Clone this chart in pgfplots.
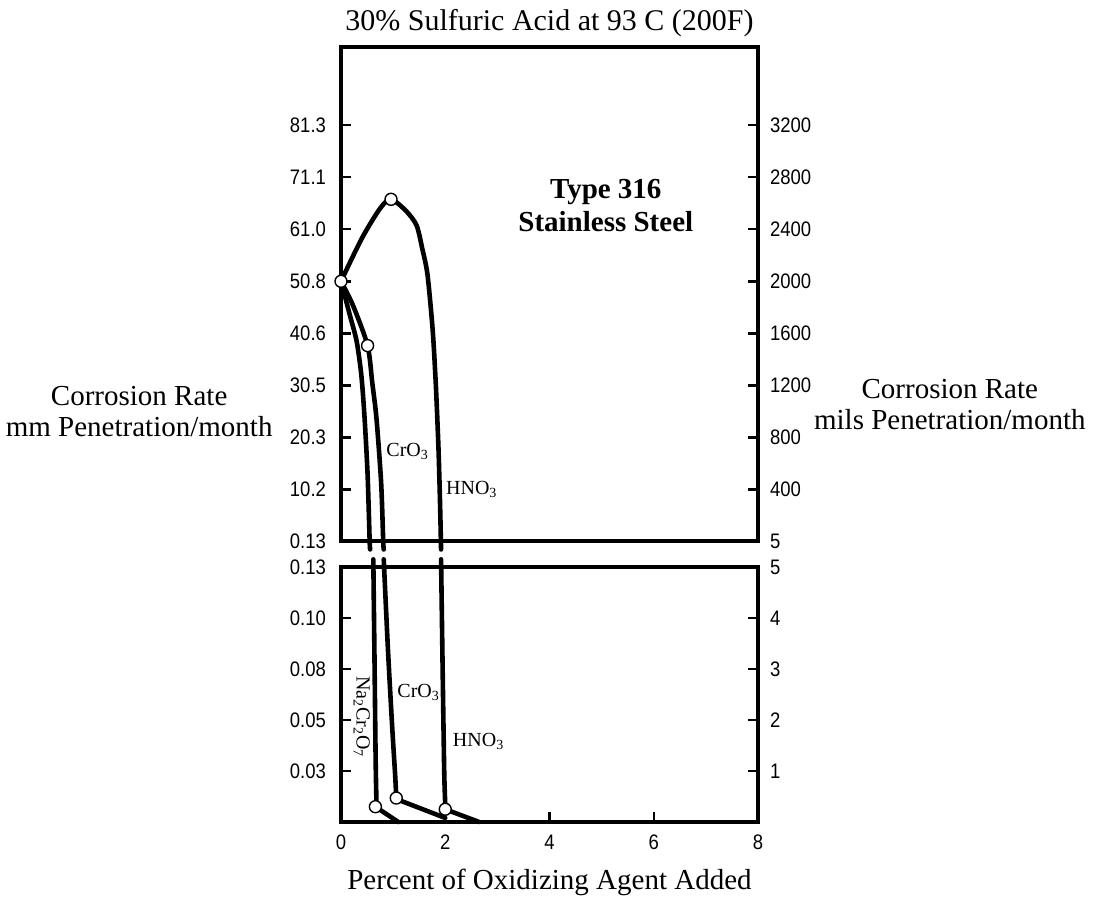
\documentclass[border=0pt]{standalone}
\usepackage{pgfplots}
\pgfplotsset{compat=1.18}
\usepackage{fontspec}
\setmainfont{Liberation Serif}
\newfontfamily\tickfont{Liberation Sans}[FakeStretch=0.88]

\begin{document}
\begin{tikzpicture}
\path[use as bounding box] (-170.5pt,-44.5pt) rectangle (386.5pt,411pt);

\pgfplotsset{
  panel/.style={scale only axis, width=208.5pt, xmin=0, xmax=8, clip=false,
    axis line style={line width=2pt, black}, tick align=inside,
    major tick length=5pt, tick style={line width=1.2pt, black},
    tick label style={font=\tickfont\fontsize{10.5}{12}\selectfont}},
  crv/.style={black, line width=2.3pt, smooth, tension=0.45, line join=round, line cap=round, mark=none},
  circ/.style={only marks, mark=*, mark size=3pt, mark options={fill=white, draw=black, line width=0.7pt}},
}

% ---------------- top panel (mils) ----------------
\begin{axis}[panel, at={(0,140.5pt)}, anchor=south west, height=247pt,
  ymin=5, ymax=3800, xtick=\empty,
  ytick={5,400,800,1200,1600,2000,2400,2800,3200},
  yticklabels={0.13,10.2,20.3,30.5,40.6,50.8,61.0,71.1,81.3},
  ytick pos=left, yticklabel style={xshift=-4pt},
  title={30\% Sulfuric Acid at 93 C (200F)},
  title style={at={(axis description cs:0.5,1)}, anchor=center, yshift=6pt, font=\fontsize{15}{17}\selectfont}]
% HNO3
\addplot[crv] coordinates {(0,2000) (0.4,2330) (0.75,2560) (0.96,2630) (1.25,2540) (1.45,2430) (1.56,2250) (1.66,2050) (1.76,1620) (1.82,1200) (1.87,720) (1.90,300) (1.92,-60)};
% CrO3
\addplot[crv] coordinates {(0,2000) (0.23,1815) (0.51,1506) (0.6,1220) (0.68,950) (0.77,454) (0.81,5) (0.82,-60)};
% Na2Cr2O7
\addplot[crv] coordinates {(0,2000) (0.17,1740) (0.30,1540) (0.39,1280) (0.45,965) (0.51,520) (0.55,5) (0.56,-60)};
\addplot[circ] coordinates {(0,2000) (0.96,2630) (0.51,1506)};
\node[font=\bfseries\fontsize{14.5}{16.5}\selectfont, align=center] at (axis cs:5.08,2580) {Type 316\\Stainless Steel};
\node[font=\fontsize{10}{12}\selectfont] at (axis cs:1.28,694) {CrO\textsubscript{3}};
\node[font=\fontsize{10}{12}\selectfont] at (axis cs:2.51,400) {HNO\textsubscript{3}};
\node[align=center, font=\fontsize{14.5}{15.5}\selectfont] at (axis description cs:-0.484,0.263) {Corrosion Rate\\mm Penetration/month};
\node[align=center, font=\fontsize{14.5}{15.5}\selectfont] at (axis description cs:1.46,0.277) {Corrosion Rate\\mils Penetration/month};
\end{axis}

\begin{axis}[panel, at={(0,140.5pt)}, anchor=south west, height=247pt,
  ymin=5, ymax=3800, axis x line=none, axis y line*=right,
  ytick={5,400,800,1200,1600,2000,2400,2800,3200},
  yticklabels={5,400,800,1200,1600,2000,2400,2800,3200},
  yticklabel style={xshift=2.5pt}]
\addplot[draw=none] coordinates {(0,5)};
\end{axis}

% ---------------- bottom panel (mils) ----------------
\begin{axis}[panel, at={(0,0)}, anchor=south west, height=127.5pt,
  ymin=0, ymax=5,
  xtick={0,2,4,6,8}, xticklabels={0,2,4,6,8}, xtick pos=bottom,
  xticklabel style={yshift=-3pt},
  ytick={1,2,3,4,5}, yticklabels={0.03,0.05,0.08,0.10,0.13},
  ytick pos=left, yticklabel style={xshift=-4pt},
  xlabel={Percent of Oxidizing Agent Added},
  xlabel style={at={(axis description cs:0.5,0)}, anchor=center, yshift=-30pt, font=\fontsize{14.5}{17}\selectfont}]
% Na2Cr2O7
\addplot[crv] coordinates {(0.62,5.15) (0.645,3) (0.665,1.2) (0.68,0.4)};
\addplot[crv, smooth=false] coordinates {(0.66,0.3) (1.1,0.0)};
% CrO3
\addplot[crv] coordinates {(0.82,5.15) (0.9,3.4) (0.98,1.9) (1.04,0.9) (1.06,0.47)};
\addplot[crv, smooth=false] coordinates {(1.06,0.45) (2.0,0.08)};
% HNO3
\addplot[crv] coordinates {(1.92,5.15) (1.95,3) (1.98,1) (2.0,0.35)};
\addplot[crv, smooth=false] coordinates {(2.0,0.25) (2.65,0.0)};
\addplot[circ] coordinates {(0.66,0.3) (1.06,0.47) (2.0,0.25)};
\node[rotate=-90, font=\fontsize{10}{12}\selectfont] at (axis cs:0.40,2.06) {Na\textsubscript{2}Cr\textsubscript{2}O\textsubscript{7}};
\node[font=\fontsize{10}{12}\selectfont] at (axis cs:1.49,2.55) {CrO\textsubscript{3}};
\node[font=\fontsize{10}{12}\selectfont] at (axis cs:2.64,1.57) {HNO\textsubscript{3}};
\end{axis}

\begin{axis}[panel, at={(0,0)}, anchor=south west, height=127.5pt,
  ymin=0, ymax=5, axis x line=none, axis y line*=right,
  ytick={1,2,3,4,5}, yticklabels={1,2,3,4,5},
  yticklabel style={xshift=2.5pt}]
\addplot[draw=none] coordinates {(0,0)};
\end{axis}
\end{tikzpicture}
\end{document}
